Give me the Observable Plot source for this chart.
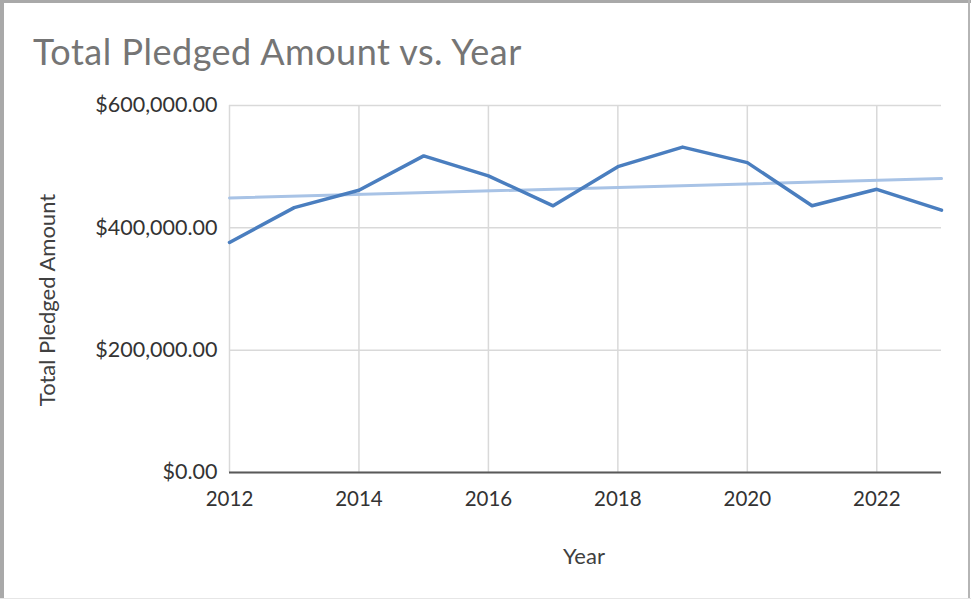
<!DOCTYPE html>
<html>
<head>
<meta charset="utf-8">
<script src="https://cdn.jsdelivr.net/npm/d3@7"></script>
<script src="https://cdn.jsdelivr.net/npm/@observablehq/plot@0.6"></script>
<style>
  html, body { margin: 0; padding: 0; background: #ffffff; }
  #wrap { position: relative; width: 971px; height: 599px; overflow: hidden; background: #fff; font-family: Lato, "Open Sans", sans-serif; }
  #chart { position: absolute; left: 0; top: 0; }
  .title { position: absolute; left: 33px; top: 33px; font-size: 36px; letter-spacing: 0.5px; color: #757575; white-space: nowrap; line-height: 1; }
  .xlabel { position: absolute; left: 584px; top: 545px; transform: translateX(-50%); font-size: 22px; color: #404040; white-space: nowrap; line-height: 1; }
  .ylabel { position: absolute; left: 47px; top: 300px; transform: translate(-50%, -50%) rotate(-90deg); font-size: 22px; color: #404040; white-space: nowrap; line-height: 1; }
  .bt { position: absolute; left: 0; top: 0; width: 971px; height: 3px; background: #a9a9a9; }
  .bl { position: absolute; left: 0; top: 0; width: 4px; height: 599px; background: #a9a9a9; }
  .br { position: absolute; right: 1px; top: 0; width: 2px; height: 599px; background: #b5b5b5; }
  .bb { position: absolute; left: 0; bottom: 0; width: 971px; height: 1px; background: #e6e6e6; }
</style>
</head>
<body>
<div id="wrap">
  <div id="chart"></div>
  <div class="title">Total Pledged Amount vs. Year</div>
  <div class="ylabel">Total Pledged Amount</div>
  <div class="xlabel">Year</div>
  <div class="bt"></div>
  <div class="bl"></div>
  <div class="br"></div>
  <div class="bb"></div>
</div>
<script>
const years = [2012, 2013, 2014, 2015, 2016, 2017, 2018, 2019, 2020, 2021, 2022, 2023];
const pledged = [376000, 433000, 461500, 517600, 485000, 436000, 500000, 532000, 506600, 436000, 463000, 429000];
const xTicks = [2012, 2014, 2016, 2018, 2020, 2022];
const yTicks = [0, 200000, 400000, 600000];

const data = years.map((year, i) => ({year, amount: pledged[i]}));
const money = d3.format("$,.2f");

const chart = Plot.plot({
  width: 971,
  height: 599,
  marginLeft: 229,
  marginRight: 30,
  marginTop: 105,
  marginBottom: 127,
  style: {fontFamily: "Lato, 'Open Sans', sans-serif", background: "transparent", color: "#404040"},
  x: {domain: [2012, 2023]},
  y: {domain: [0, 600000]},
  marks: [
    Plot.gridY(yTicks, {stroke: "#d9d9d9", strokeOpacity: 1, strokeWidth: 1.5}),
    Plot.gridX(xTicks, {stroke: "#d9d9d9", strokeOpacity: 1, strokeWidth: 1.5}),
    Plot.ruleY([0], {stroke: "#595959", strokeWidth: 2}),
    Plot.linearRegressionY(data, {x: "year", y: "amount", ci: 0, stroke: "#a8c3e6", strokeWidth: 3}),
    Plot.line(data, {x: "year", y: "amount", stroke: "#4a7ebf", strokeWidth: 3.5}),
    Plot.axisY(yTicks, {tickFormat: money, tickSize: 0, tickPadding: 12, fontSize: 21.5, label: null, fill: "#333"}),
    Plot.axisX(xTicks, {tickFormat: d => String(d), tickSize: 0, tickPadding: 18.5, fontSize: 20.5, label: null, fill: "#333"})
  ]
});
document.getElementById("chart").appendChild(chart);
</script>
</body>
</html>
